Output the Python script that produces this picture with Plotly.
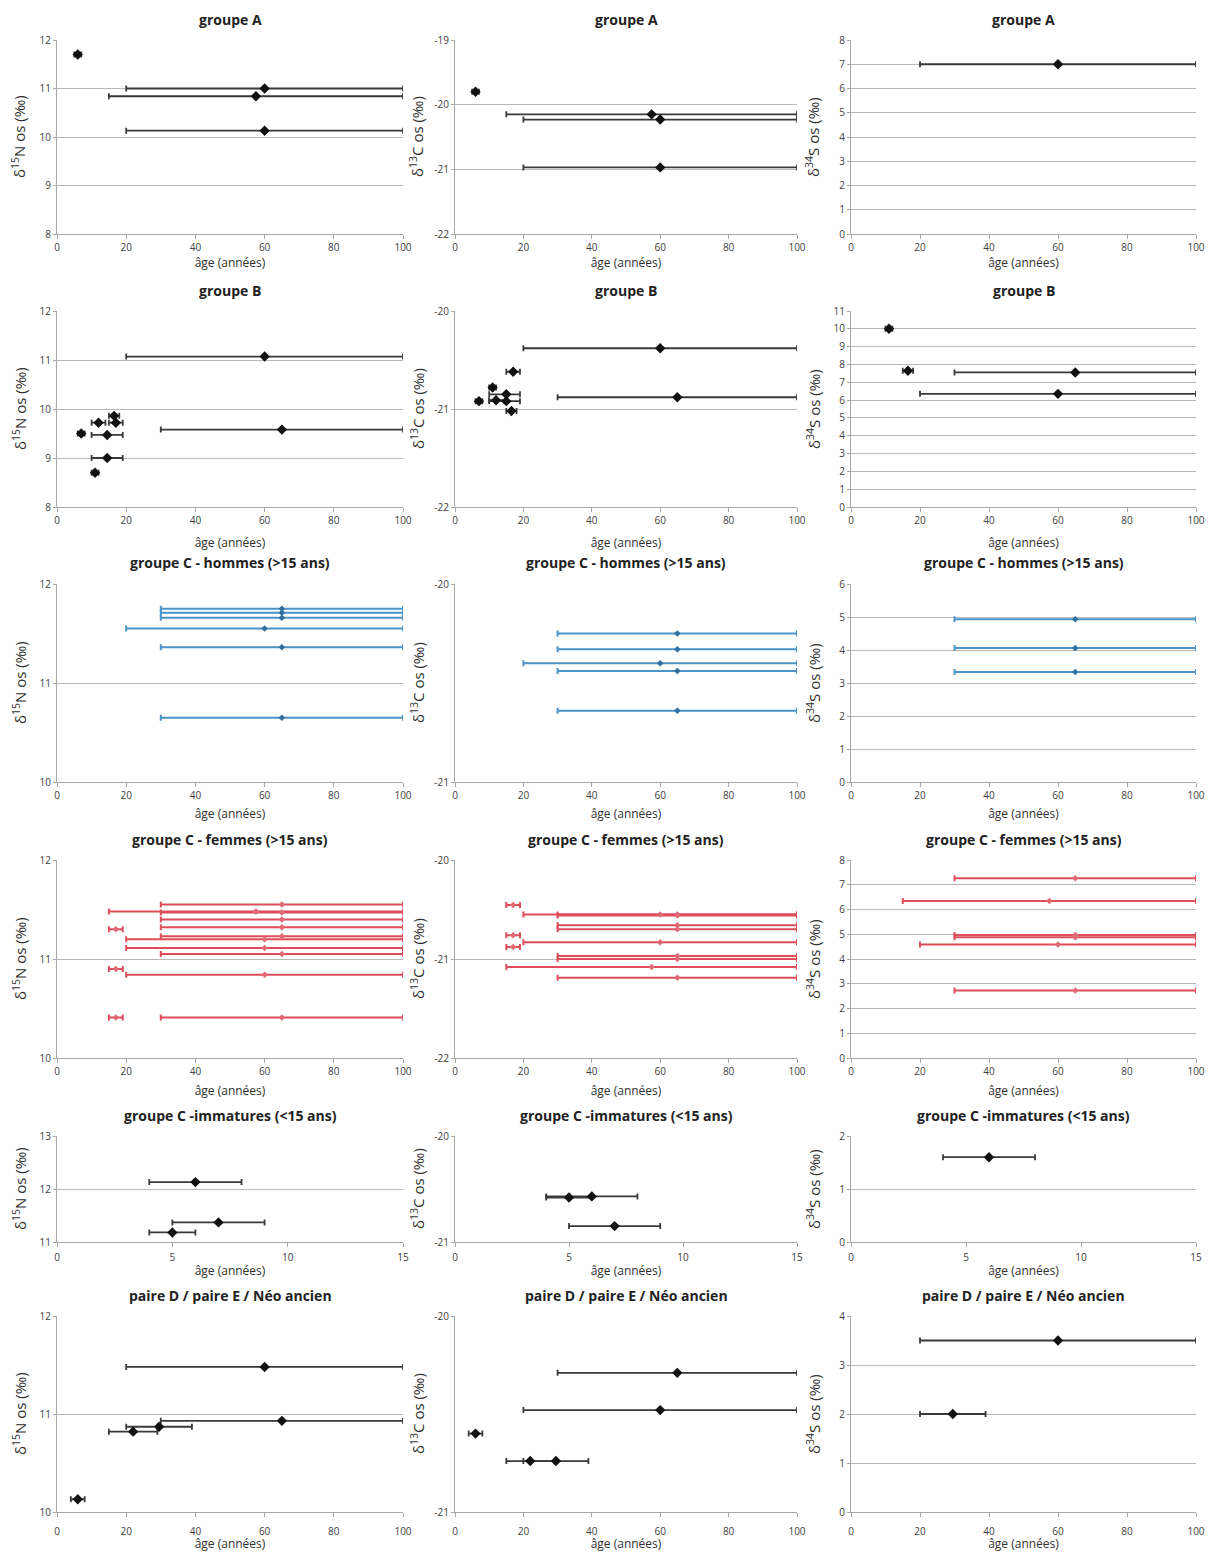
import plotly.graph_objects as go
from plotly.subplots import make_subplots

# ---------------- DATA ----------------
# each panel: age (point), age_min, age_max (horizontal bar ends), isotope value
# groupe A
A_N_age = [6, 60, 57.5, 60];      A_N_min = [5, 20, 15, 20];      A_N_max = [7, 100, 100, 100];      A_N_val = [11.7, 11.0, 10.84, 10.13]
A_C_age = [6, 57.5, 60, 60];      A_C_min = [5, 15, 20, 20];      A_C_max = [7, 100, 100, 100];      A_C_val = [-19.8, -20.15, -20.23, -20.97]
A_S_age = [60];                   A_S_min = [20];                 A_S_max = [100];                   A_S_val = [7.0]

# groupe B
B_N_age = [60, 16.5, 12, 17, 7, 14.5, 65, 14.5, 11]
B_N_min = [20, 15, 10, 15, 6, 10, 30, 10, 10]
B_N_max = [100, 18, 14, 19, 8, 19, 100, 19, 12]
B_N_val = [11.07, 9.86, 9.72, 9.72, 9.5, 9.47, 9.58, 9.0, 8.7]
B_C_age = [60, 17, 11, 15, 7, 12, 15, 65, 16.5]
B_C_min = [20, 15, 10, 10, 6, 10, 10, 30, 15]
B_C_max = [100, 19, 12, 19, 8, 15, 19, 100, 18]
B_C_val = [-20.38, -20.62, -20.78, -20.85, -20.92, -20.91, -20.92, -20.88, -21.02]
B_S_age = [11, 16.5, 65, 60]
B_S_min = [10, 15, 30, 20]
B_S_max = [12, 18, 100, 100]
B_S_val = [10.0, 7.65, 7.55, 6.35]

# groupe C - hommes
CH_N_age = [65, 65, 65, 60, 65, 65]
CH_N_min = [30, 30, 30, 20, 30, 30]
CH_N_max = [100, 100, 100, 100, 100, 100]
CH_N_val = [11.75, 11.71, 11.66, 11.55, 11.36, 10.65]
CH_C_age = [65, 65, 60, 65, 65]
CH_C_min = [30, 30, 20, 30, 30]
CH_C_max = [100, 100, 100, 100, 100]
CH_C_val = [-20.25, -20.33, -20.40, -20.44, -20.64]
CH_S_age = [65, 65, 65]
CH_S_min = [30, 30, 30]
CH_S_max = [100, 100, 100]
CH_S_val = [4.93, 4.06, 3.33]

# groupe C - femmes
CF_N_age = [65, 57.5, 65, 65, 17, 65, 65, 60, 60, 65, 17, 60, 17, 65]
CF_N_min = [30, 15, 30, 30, 15, 30, 30, 20, 20, 30, 15, 20, 15, 30]
CF_N_max = [100, 100, 100, 100, 19, 100, 100, 100, 100, 100, 19, 100, 19, 100]
CF_N_val = [11.55, 11.48, 11.47, 11.40, 11.30, 11.32, 11.23, 11.20, 11.11, 11.05, 10.90, 10.84, 10.41, 10.41]
CF_C_age = [17, 60, 65, 65, 65, 65, 17, 60, 17, 65, 65, 57.5, 65]
CF_C_min = [15, 20, 30, 30, 30, 30, 15, 20, 15, 30, 30, 15, 30]
CF_C_max = [19, 100, 100, 100, 100, 100, 19, 100, 19, 100, 100, 100, 100]
CF_C_val = [-20.455, -20.55, -20.55, -20.56, -20.66, -20.70, -20.76, -20.83, -20.88, -20.97, -21.0, -21.08, -21.19]
CF_S_age = [65, 57.5, 65, 65, 60, 65]
CF_S_min = [30, 15, 30, 30, 20, 30]
CF_S_max = [100, 100, 100, 100, 100, 100]
CF_S_val = [7.26, 6.34, 4.97, 4.88, 4.59, 2.73]

# groupe C - immatures
CI_N_age = [6, 7, 5];   CI_N_min = [4, 5, 4];   CI_N_max = [8, 9, 6];   CI_N_val = [12.13, 11.37, 11.18]
CI_C_age = [5, 6, 7];   CI_C_min = [4, 4, 5];   CI_C_max = [6, 8, 9];   CI_C_val = [-20.58, -20.57, -20.85]
CI_S_age = [6];         CI_S_min = [4];         CI_S_max = [8];         CI_S_val = [1.6]

# paire D / paire E / Néo ancien
D_N_age = [60, 65, 29.5, 22, 6]
D_N_min = [20, 30, 20, 15, 4]
D_N_max = [100, 100, 39, 29, 8]
D_N_val = [11.48, 10.93, 10.87, 10.82, 10.13]
D_C_age = [65, 60, 6, 22, 29.5]
D_C_min = [30, 20, 4, 15, 20]
D_C_max = [100, 100, 8, 29, 39]
D_C_val = [-20.29, -20.48, -20.60, -20.74, -20.74]
D_S_age = [60, 29.5]
D_S_min = [20, 20]
D_S_max = [100, 39]
D_S_val = [3.5, 2.0]

ROW_TITLES = ["groupe A", "groupe B", "groupe C - hommes (>15 ans)",
              "groupe C - femmes (>15 ans)", "groupe C -immatures (<15 ans)",
              "paire D / paire E / Néo ancien"]
Y_TITLES = ["δ<sup>15</sup>N os (‰)", "δ<sup>13</sup>C os (‰)", "δ<sup>34</sup>S os (‰)"]
X_TITLE = "âge (années)"

# y ranges per (row, col)
Y_RANGES = [
    [(8, 12), (-22, -19), (0, 8)],
    [(8, 12), (-22, -20), (0, 11)],
    [(10, 12), (-21, -20), (0, 6)],
    [(10, 12), (-22, -20), (0, 8)],
    [(11, 13), (-21, -20), (0, 2)],
    [(10, 12), (-21, -20), (0, 4)],
]
X_RANGES = [(0, 100), (0, 100), (0, 100), (0, 100), (0, 15), (0, 100)]
X_DTICK = [20, 20, 20, 20, 5, 20]

PANELS = [
    [(A_N_age, A_N_min, A_N_max, A_N_val), (A_C_age, A_C_min, A_C_max, A_C_val), (A_S_age, A_S_min, A_S_max, A_S_val)],
    [(B_N_age, B_N_min, B_N_max, B_N_val), (B_C_age, B_C_min, B_C_max, B_C_val), (B_S_age, B_S_min, B_S_max, B_S_val)],
    [(CH_N_age, CH_N_min, CH_N_max, CH_N_val), (CH_C_age, CH_C_min, CH_C_max, CH_C_val), (CH_S_age, CH_S_min, CH_S_max, CH_S_val)],
    [(CF_N_age, CF_N_min, CF_N_max, CF_N_val), (CF_C_age, CF_C_min, CF_C_max, CF_C_val), (CF_S_age, CF_S_min, CF_S_max, CF_S_val)],
    [(CI_N_age, CI_N_min, CI_N_max, CI_N_val), (CI_C_age, CI_C_min, CI_C_max, CI_C_val), (CI_S_age, CI_S_min, CI_S_max, CI_S_val)],
    [(D_N_age, D_N_min, D_N_max, D_N_val), (D_C_age, D_C_min, D_C_max, D_C_val), (D_S_age, D_S_min, D_S_max, D_S_val)],
]

ROW_STYLE = ["black", "black", "blue", "red", "black", "black"]

# ---------------- STYLE / LAYOUT ----------------
OFF = 8                      # default page (body) margin
W, H = 1214 - OFF, 1560 - 2 * OFF
STYLES = {
    "black": dict(color="#111111", bar="#3a3a3a", symbol="diamond", size=8, thick=1.8, cap=3),
    "blue": dict(color="#2f6f9f", bar="#4b93c8", symbol="diamond", size=5, thick=2, cap=3),
    "red": dict(color="#e06a74", bar="#de4d5a", symbol="diamond", size=5, thick=2, cap=3),
}
COL_PX = [(57, 403), (455, 797), (851, 1196)]
ROW_PX = [(40, 234), (311, 507), (584, 782), (860, 1058), (1136, 1242), (1316, 1512)]
YTITLE_X = [19, 417, 813]
TICK_STANDOFF = [0, 0, 0, 0, 2, 6]
TITLE_STANDOFF = [2, 12, 8, 9, 3, 1]


def px_x(p):
    return (p - OFF) / W


def px_y(p):
    return 1 - (p - OFF) / H


FONT = "Open Sans, Liberation Sans, Arial, sans-serif"

fig = make_subplots(rows=6, cols=3)

for r in range(6):
    st = STYLES[ROW_STYLE[r]]
    for c in range(3):
        age, amin, amax, val = PANELS[r][c]
        plus = [hi - a for a, hi in zip(age, amax)]
        minus = [a - lo for a, lo in zip(age, amin)]
        fig.add_trace(go.Scatter(
            x=age, y=val, mode="markers",
            marker=dict(symbol=st["symbol"], size=st["size"], color=st["color"],
                        line=dict(width=0)),
            error_x=dict(type="data", symmetric=False, array=plus, arrayminus=minus,
                         color=st["bar"], thickness=st["thick"], width=st["cap"]),
            showlegend=False, cliponaxis=False, hoverinfo="x+y",
        ), row=r + 1, col=c + 1)

annotations = []
for r in range(6):
    top, bot = ROW_PX[r]
    for c in range(3):
        idx = r * 3 + c + 1
        xa = "xaxis" if idx == 1 else f"xaxis{idx}"
        ya = "yaxis" if idx == 1 else f"yaxis{idx}"
        x0, x1 = COL_PX[c]
        y0, y1 = Y_RANGES[r][c]
        yt = list(range(y0, y1 + 1))
        fig.layout[xa].update(
            domain=[px_x(x0), px_x(x1)], range=list(X_RANGES[r]), dtick=X_DTICK[r], tick0=0,
            showgrid=False, zeroline=False, showline=True, linecolor="#a8a8a8", linewidth=1,
            ticks="outside", ticklen=4, tickcolor="#a8a8a8", automargin=False,
            ticklabelstandoff=TICK_STANDOFF[r],
            tickfont=dict(family=FONT, size=10, color="#404040"),
            title=dict(text=X_TITLE, font=dict(family=FONT, size=12, color="#303030"),
                       standoff=TITLE_STANDOFF[r]),
        )
        fig.layout[ya].update(
            domain=[px_y(bot), px_y(top)], range=[y0, y1],
            tickmode="array", tickvals=yt, ticktext=[str(v) for v in yt],
            showgrid=True, gridcolor="#b8b8b8", gridwidth=1, zeroline=False,
            showline=True, linecolor="#a8a8a8", linewidth=1, automargin=False,
            ticks="outside", ticklen=3, tickcolor="#a8a8a8",
            tickfont=dict(family=FONT, size=10, color="#404040"),
        )
        annotations.append(dict(
            text=Y_TITLES[c], xref="paper", yref="paper",
            x=px_x(YTITLE_X[c]), y=px_y((top + bot) / 2),
            textangle=-90, showarrow=False, xanchor="center", yanchor="middle",
            font=dict(family=FONT, size=15, color="#303030"),
        ))
        annotations.append(dict(
            text=f"<b>{ROW_TITLES[r]}</b>", xref="paper", yref="paper",
            x=px_x((x0 + x1) / 2), y=px_y(top - 21),
            showarrow=False, xanchor="center", yanchor="middle",
            font=dict(family=FONT, size=14, color="#222222"),
        ))

fig.update_layout(
    width=W, height=H, margin=dict(l=0, r=0, t=0, b=0, autoexpand=False),
    paper_bgcolor="white", plot_bgcolor="white",
    annotations=annotations, showlegend=False,
    font=dict(family=FONT),
)

fig.write_html("out.html")
